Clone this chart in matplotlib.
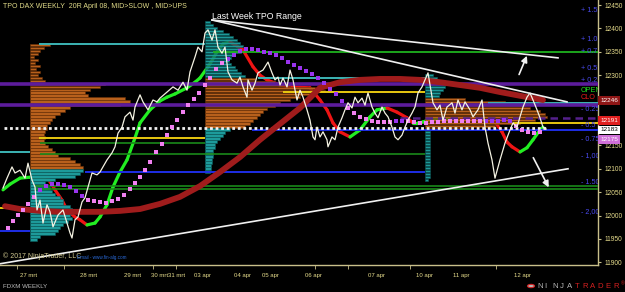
import numpy as np
import matplotlib.pyplot as plt
from matplotlib.collections import LineCollection

plt.rcParams['font.family'] = ['Liberation Sans', 'DejaVu Sans']

# white price line (bar index -> price)
price_bar = [3, 7, 12, 15, 20, 25, 28, 32, 35, 37, 40, 43, 47, 50, 53, 58, 63, 67, 70, 72,
             75, 78, 82, 85, 88, 92, 97, 100, 103, 107, 112, 115, 118, 122, 125, 130, 133, 135, 140, 143,
             148, 153, 157, 160, 167, 173, 178, 183, 187, 190, 195, 198, 202, 205, 208, 212, 215, 218, 222, 225,
             228, 232, 237, 240, 243, 247, 248, 252, 255, 258, 263, 268, 272, 275, 278, 280, 283, 287, 290, 293,
             297, 300, 303, 307, 310, 313, 315, 317, 320, 323, 327, 328, 332, 335, 338, 342, 345, 348, 352, 355,
             358, 362, 365, 368, 372, 375, 378, 382, 385, 388, 392, 395, 398, 402, 405, 408, 412, 415, 418, 422,
             425, 428, 430, 433, 437, 440, 443, 447, 452, 455, 458, 462, 465, 470, 473, 478, 482, 485, 488, 492,
             495, 500, 505, 510, 513, 517, 520, 523, 527, 530, 533, 537, 540, 543, 546]
price_val = [12059, 12080, 12104, 12091, 12097, 12080, 12112, 12076, 12061, 12012, 12033, 11984, 12023, 12008, 11976, 12001, 12012, 11984, 11963, 11952,
             11991, 11997, 12029, 12038, 12061, 12091, 12087, 12093, 12104, 12119, 12134, 12147, 12176, 12189, 12211, 12221, 12204, 12232, 12258, 12243,
             12226, 12247, 12243, 12251, 12264, 12275, 12268, 12285, 12268, 12307, 12339, 12360, 12350, 12390, 12397, 12375, 12397, 12360, 12347, 12360,
             12307, 12290, 12283, 12296, 12275, 12253, 12290, 12268, 12283, 12305, 12311, 12328, 12305, 12290, 12296, 12279, 12294, 12275, 12311, 12290,
             12247, 12268, 12253, 12226, 12204, 12168, 12162, 12189, 12168, 12179, 12162, 12147, 12168, 12162, 12189, 12209, 12226, 12241, 12230, 12253,
             12241, 12251, 12236, 12262, 12232, 12219, 12209, 12232, 12219, 12211, 12189, 12168, 12162, 12172, 12189, 12204, 12219, 12232, 12262, 12275,
             12290, 12305, 12279, 12241, 12226, 12236, 12204, 12232, 12241, 12219, 12247, 12226, 12243, 12226, 12211, 12226, 12247, 12189, 12155, 12119,
             12080, 12119, 12155, 12183, 12198, 12189, 12211, 12232, 12253, 12262, 12247, 12226, 12209, 12189, 12185]

# fast average (green rising / red falling)
fast_bar = [3, 10, 20, 30, 40, 47, 55, 62, 67, 75, 80, 87, 95, 100, 107, 113, 120, 127, 135, 140,
            150, 160, 167, 175, 187, 195, 200, 210, 217, 223, 230, 237, 243, 253, 260, 267, 280, 290, 300, 310,
            320, 327, 333, 340, 350, 360, 370, 377, 387, 397, 407, 413, 418, 423, 428, 440, 460, 480, 495, 502,
            507, 512, 520, 527, 533, 540, 543]
fast_val = [12055, 12067, 12080, 12082, 12082, 12082, 12055, 12033, 12012, 11997, 11991, 11980, 11984, 11997, 12023, 12061, 12093, 12119, 12166, 12198,
            12226, 12245, 12253, 12260, 12273, 12285, 12294, 12324, 12350, 12367, 12371, 12362, 12354, 12318, 12300, 12290, 12279, 12275, 12274, 12273,
            12247, 12226, 12198, 12179, 12168, 12183, 12211, 12226, 12230, 12221, 12209, 12198, 12198, 12200, 12204, 12206, 12206, 12204, 12200, 12179,
            12157, 12147, 12136, 12145, 12162, 12183, 12189]

# slow average (dark red)
slow_bar = [5, 20, 40, 60, 80, 100, 120, 140, 160, 180, 200, 220, 240, 260, 280, 300, 320, 340, 360, 380,
            400, 420, 440, 460, 480, 500, 520, 543]
slow_val = [12020, 12014, 12010, 12008, 12008, 12008, 12010, 12014, 12025, 12040, 12063, 12093, 12125, 12162, 12196, 12230, 12273, 12285, 12290, 12292,
            12292, 12290, 12285, 12279, 12273, 12264, 12256, 12247]

# dotted band (pink / violet)
band_bar = [8, 13, 18, 23, 28, 34, 40, 46, 52, 58, 64, 70, 76, 82, 88, 94, 100, 106, 112, 118,
            124, 130, 135, 140, 145, 150, 156, 162, 167, 172, 177, 183, 188, 194, 199, 205, 210, 216, 222, 228,
            234, 240, 246, 252, 258, 264, 270, 276, 282, 288, 294, 300, 306, 312, 318, 324, 330, 336, 342, 348,
            354, 360, 366, 372, 378, 384, 390, 396, 402, 408, 414, 420, 426, 432, 438, 444, 450, 456, 462, 468,
            474, 480, 486, 492, 498, 504, 510, 516, 522, 528, 534, 540]
band_val = [11973, 11988, 12001, 12012, 12025, 12040, 12055, 12063, 12067, 12067, 12065, 12061, 12052, 12042, 12033, 12031, 12029, 12027, 12031, 12035,
            12044, 12057, 12070, 12082, 12097, 12114, 12136, 12153, 12172, 12189, 12204, 12221, 12236, 12249, 12262, 12279, 12294, 12313, 12326, 12335,
            12343, 12352, 12356, 12356, 12354, 12350, 12347, 12343, 12337, 12328, 12322, 12315, 12309, 12303, 12294, 12283, 12270, 12260, 12245, 12230,
            12219, 12211, 12206, 12202, 12200, 12200, 12200, 12202, 12202, 12202, 12200, 12198, 12198, 12200, 12200, 12202, 12202, 12202, 12202, 12202,
            12202, 12202, 12202, 12202, 12202, 12204, 12202, 12191, 12183, 12179, 12176, 12179]

# TPO profiles
tpo_row = 6.4
prof_base = [30, 205, 425]
prof_top = [12365, 12414, 12300]
prof_len = [
    [20, 14, 10, 8, 4, 8, 5, 10, 6, 10, 8, 12, 15, 75, 70, 60, 55, 58, 95, 100,
     90, 40, 35, 30, 25, 22, 20, 17, 17, 15, 14, 15, 14, 15, 18, 22, 25, 28, 40, 45,
     50, 53, 53, 50, 45, 25, 15, 18, 20, 22, 25, 30, 33, 33, 40, 42, 42, 40, 42, 38,
     33, 30, 28, 25, 10, 7],
    [5, 8, 12, 18, 24, 28, 32, 35, 38, 34, 36, 30, 26, 24, 26, 30, 32, 36, 40,
     50, 70, 85, 110, 120, 105, 95, 85, 75, 70, 62, 58, 55, 52, 48, 45, 40,
     25, 20, 18, 15, 12, 10, 10, 8, 8, 8, 7, 7, 6, 6, 5],
    [8, 12, 16, 18, 20, 18, 15, 14,
     40, 80, 100, 105, 115, 120, 122, 110, 95, 70, 45,
     5, 5, 5, 5, 5, 5, 5, 5, 5, 5, 5, 5, 5, 5, 5, 5, 3],
]
prof_va = [(0, 42), (19, 36), (8, 19)]

# horizontal levels: (price, from bar, to bar)
teal_lv = [(12367, 39, 205), (12294, 258, 425), (12241, 488, 598), (12136, 0, 30)]
lime_lv = [(12350, 213, 598)]
purple_lv = [(12281, 0, 598), (12236, 0, 598)]
purple_dash_lv = [(12209, 400, 598)]
yellow_lv = [(12264, 283, 425), (12198, 513, 598), (12166, 39, 205), (12016, 0, 30)]
blue_lv = [(12182, 252, 598), (12093, 85, 425), (11967, 0, 30)]
green_lv = [(12155, 40, 205), (12132, 40, 425), (12063, 35, 598), (12057, 35, 598)]
dotted_lv = [(12187, 4, 547)]

# trend lines and arrows: (bar, price) pairs
trend_lines = [((212, 12418), (558, 12337)), ((212, 12418), (567, 12243)), ((0, 11897), (568, 12100))]
arrows = [((518, 12296), (528, 12347)), ((532, 12129), (550, 12055))]

std_labels = ['+ 1.5', '+ 1.0', '+ 0.7', '+ 0.5', '+ 0.2', '- 0.25', '- 0.5', '- 0.75', '- 1,00', '- 1.50', '- 2,00']
std_prices = [12439, 12377, 12350, 12315, 12288, 12226, 12192, 12162, 12129, 12070, 12008]

date_bars = [29, 89, 133, 160, 177, 203, 242, 270, 313, 376, 424, 461, 522]
date_labels = ['27 mrt', '28 mrt', '29 mrt', '30 mrt', '31 mrt', '03 apr', '04 apr', '05 apr',
               '06 apr', '07 apr', '10 apr', '11 apr', '12 apr']
tick_bars = [17, 64, 89, 133, 153, 176, 203, 242, 270, 315, 348, 376, 410, 424, 461, 496, 522]
price_ticks = list(range(11900, 12451, 50))
hidden_ticks = [12200, 12250]  # covered by the price markers

fig = plt.figure(figsize=(6.25, 2.92), dpi=100, facecolor='black')
ax = fig.add_axes([0, 0.0925, 0.9568, 0.9075], facecolor='black')
ax.set_xlim(0, 598)
ax.set_ylim(11894.4, 12460.7)

# profiles
for base, top, lens, (a, b) in zip(prof_base, prof_top, prof_len, prof_va):
    ys = top - tpo_row * np.arange(len(lens))
    cols = ['#b8601c' if a <= i < b else '#1d9a9a' for i in range(len(lens))]
    edges = ['#6a3008' if a <= i < b else '#0c5a5a' for i in range(len(lens))]
    ax.barh(ys, lens, left=base, height=tpo_row * 0.8, color=cols, edgecolor=edges,
            linewidth=0.4, zorder=2)


def draw_levels(levels, color, lw, ls='-', z=3):
    for p, x0, x1 in levels:
        ax.plot([x0, x1], [p, p], color=color, lw=lw, ls=ls, zorder=z, solid_capstyle='butt')


draw_levels(teal_lv, '#3cb4b4', 1.4)
draw_levels(lime_lv, '#1fb21f', 1.3)
draw_levels(green_lv, '#1a8a1a', 1.2)
draw_levels(yellow_lv, '#e8c810', 1.4)
draw_levels(blue_lv, '#1e2ee6', 1.4)
draw_levels(purple_lv, '#5c1c9c', 2.6)
draw_levels(purple_dash_lv, '#54208c', 1.8, ls=(0, (3, 2)))
draw_levels(dotted_lv, '#f0f0f0', 2.0, ls=(0, (1, 1)), z=3.2)

# fast average: green while rising, red while falling
fb = np.asarray(fast_bar, float)
fv = np.asarray(fast_val, float)
pts = np.column_stack([fb, fv])
segs = np.stack([pts[:-1], pts[1:]], axis=1)
fcols = ['#22ee22' if d >= 0 else '#ee1414' for d in np.diff(fv)]
ax.add_collection(LineCollection(segs, colors=fcols, linewidths=2.3, zorder=1.8, capstyle='round'))

ax.plot(slow_bar, slow_val, color='#a01c1c', lw=4.2, zorder=3.5, solid_capstyle='round')

# band dots: pink with price above the band, violet below
band_px = np.interp(band_bar, price_bar, price_val)
band_cols = ['#f080f0' if p >= v else '#9a34ee' for p, v in zip(band_px, band_val)]
ax.scatter(band_bar, band_val, s=7, marker='s', c=band_cols, linewidths=0, zorder=4)

ax.plot(price_bar, price_val, color='#f4f2e2', lw=0.9, zorder=5)

for (x0, y0), (x1, y1) in trend_lines:
    ax.plot([x0, x1], [y0, y1], color='#f0f0f0', lw=1.2, zorder=5)
for start, end in arrows:
    ax.annotate('', xy=end, xytext=start,
                arrowprops=dict(arrowstyle='-|>', color='#f0f0f0', lw=1.2, mutation_scale=9),
                zorder=6)

ax.text(212, 12426, 'Last Week TPO Range', color='white', fontsize=6.3, va='center', zorder=6)

for lab, p in zip(std_labels, std_prices):
    ax.text(581, p, lab, color='#4a4aee', fontsize=5.2, va='center', ha='left', clip_on=True, zorder=6)
ax.text(581, 12268, 'OPEN', color='#22e022', fontsize=5.2, va='center', clip_on=True, zorder=6)
ax.text(581, 12253, 'CLO', color='#ee1a1a', fontsize=5.2, va='center', clip_on=True, zorder=6)

# axes styling
for s in ['top', 'left']:
    ax.spines[s].set_visible(False)
for s in ['bottom', 'right']:
    ax.spines[s].set_color('#c8bf8a')
    ax.spines[s].set_linewidth(1)
ax.yaxis.tick_right()
ax.set_yticks(price_ticks)
ax.set_yticklabels(['' if t in hidden_ticks else str(t) for t in price_ticks])
ax.tick_params(axis='y', colors='#c8bf8a', labelcolor='#e6dc8c', labelsize=4.8, length=2.5, pad=2.5)
ax.set_xticks(date_bars)
ax.set_xticklabels(date_labels)
ax.set_xticks(tick_bars, minor=True)
ax.tick_params(axis='x', which='major', length=0, labelcolor='#e6dc8c', labelsize=4.3, pad=6)
ax.tick_params(axis='x', which='minor', length=3, color='#c8bf8a')

# price markers on the scale
yt = ax.get_yaxis_transform()
box = dict(boxstyle='square,pad=0.3', ec='none')
ax.text(1.004, 12204, '12191', transform=yt, fontsize=4.6, color='white', va='center',
        bbox=dict(box, fc='#e02020'), clip_on=False, zorder=7)
ax.text(1.004, 12163, '12175', transform=yt, fontsize=4.6, color='white', va='center',
        bbox=dict(box, fc='#d070d8'), clip_on=False, zorder=7)
ax.text(1.004, 12183, '12183', transform=yt, fontsize=4.6, color='black', va='center',
        bbox=dict(box, fc='white'), clip_on=False, zorder=8)
ax.text(1.004, 12246, '12246', transform=yt, fontsize=4.6, color='white', va='center',
        bbox=dict(box, fc='#8e1616'), clip_on=False, zorder=8)

# header / footer texts
fig.text(3 / 625, 1 - 7 / 292, 'TPO DAX WEEKLY  20R April 08, MID>SLOW , MID>UPS',
         color='#e2dc8a', fontsize=5, va='center')
fig.text(3 / 625, 1 - 256 / 292, '\u00a9 2017 NinjaTrader, LLC', color='#d0c890', fontsize=5, va='center')
fig.text(77 / 625, 1 - 257 / 292, 'Email - www.fin-alg.com', color='#2a6ad8', fontsize=3.3, va='center')
fig.text(3 / 625, 1 - 286 / 292, 'FDXM WEEKLY', color='#bdbdbd', fontsize=4.4, va='center')

logo = 'NINJATRADER'
for i, ch in enumerate(logo):
    fig.text((537 + i * 7.6) / 625, 1 - 286 / 292, ch, fontsize=5.6, va='center',
             color='#b4b4b4' if i < 5 else '#d42020')
fig.text(621 / 625, 1 - 284 / 292, '\u00ae', fontsize=3.5, color='#d42020', va='center')
fig.patches.append(plt.Circle((531 / 625, 1 - 286 / 292), 3.5 / 625, transform=fig.transFigure,
                              fc='#b4b4b4', ec='#d42020', lw=0.8))

fig.savefig('out.png', dpi=100, facecolor='black')
